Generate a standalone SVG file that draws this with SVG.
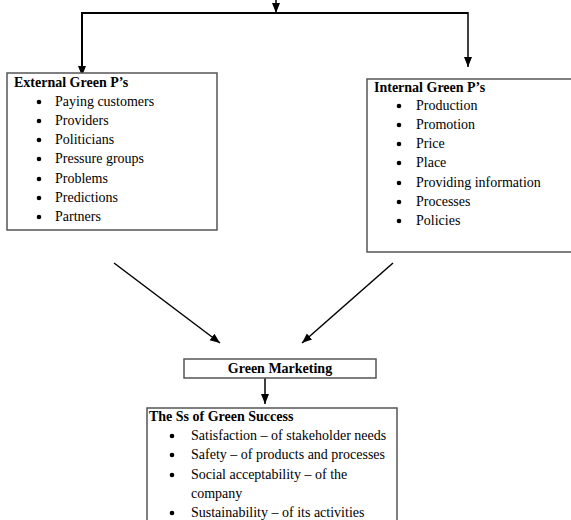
<svg xmlns="http://www.w3.org/2000/svg" width="571" height="520" viewBox="0 0 571 520">
<defs>
<style>
.box{fill:#fff;stroke:#555;stroke-width:1.5}
.t{font-family:"Liberation Serif","Times New Roman",serif;font-size:14px;fill:#000}
.b{font-weight:bold}
.c{fill:none;stroke:#000}
.dot{fill:#000}
</style>
<marker id="ah" markerUnits="userSpaceOnUse" markerWidth="10" markerHeight="10" viewBox="0 0 10 10" refX="10" refY="5" orient="auto">
<path d="M0,1 L10,5 L0,9 Z" fill="#000"/>
</marker>
</defs>
<rect width="571" height="520" fill="#fff"/>
<g id="connectors">
<line class="c" x1="276" y1="0" x2="276" y2="13" stroke-width="1.5" marker-end="url(#ah)"/>
<polyline class="c" points="82,13 468,13" stroke-width="2"/>
<line class="c" x1="82" y1="12" x2="82" y2="76" stroke-width="2" marker-end="url(#ah)"/>
<line class="c" x1="468" y1="12" x2="468" y2="67" stroke-width="1.5" marker-end="url(#ah)"/>
<line class="c" x1="114" y1="263" x2="220" y2="343" stroke-width="1.5" marker-end="url(#ah)"/>
<line class="c" x1="393" y1="263" x2="302" y2="343" stroke-width="1.5" marker-end="url(#ah)"/>
<line class="c" x1="265" y1="378" x2="265" y2="404" stroke-width="1.5" marker-end="url(#ah)"/>
</g>
<g id="external">
<rect class="box" x="7" y="73" width="210" height="157"/>
<text class="t b" x="14" y="87">External Green P’s</text>
<g class="dot">
<circle cx="39" cy="102" r="2.3"/><circle cx="39" cy="121" r="2.3"/><circle cx="39" cy="140" r="2.3"/><circle cx="39" cy="159" r="2.3"/><circle cx="39" cy="179" r="2.3"/><circle cx="39" cy="198" r="2.3"/><circle cx="39" cy="217" r="2.3"/>
</g>
<g class="t">
<text x="55" y="106">Paying customers</text>
<text x="55" y="125">Providers</text>
<text x="55" y="144">Politicians</text>
<text x="55" y="163">Pressure groups</text>
<text x="55" y="183">Problems</text>
<text x="55" y="202">Predictions</text>
<text x="55" y="221">Partners</text>
</g>
</g>
<g id="internal">
<rect class="box" x="367" y="79" width="214" height="173"/>
<text class="t b" x="374" y="92">Internal Green P’s</text>
<g class="dot">
<circle cx="399" cy="106" r="2.3"/><circle cx="399" cy="125" r="2.3"/><circle cx="399" cy="144" r="2.3"/><circle cx="399" cy="163" r="2.3"/><circle cx="399" cy="183" r="2.3"/><circle cx="399" cy="202" r="2.3"/><circle cx="399" cy="221" r="2.3"/>
</g>
<g class="t">
<text x="416" y="110">Production</text>
<text x="416" y="129">Promotion</text>
<text x="416" y="148">Price</text>
<text x="416" y="167">Place</text>
<text x="416" y="187">Providing information</text>
<text x="416" y="206">Processes</text>
<text x="416" y="225">Policies</text>
</g>
</g>
<g id="green-marketing">
<rect class="box" x="184" y="359" width="192" height="19"/>
<text class="t b" x="280" y="373" text-anchor="middle">Green Marketing</text>
</g>
<g id="green-success">
<rect class="box" x="147" y="408" width="250" height="125"/>
<text class="t b" x="149" y="421">The Ss of Green Success</text>
<g class="dot">
<circle cx="172" cy="436" r="2.3"/><circle cx="172" cy="455" r="2.3"/><circle cx="172" cy="475" r="2.3"/><circle cx="172" cy="513" r="2.3"/>
</g>
<g class="t">
<text x="191" y="440">Satisfaction – of stakeholder needs</text>
<text x="191" y="459">Safety – of products and processes</text>
<text x="191" y="479">Social acceptability – of the</text>
<text x="191" y="498">company</text>
<text x="191" y="517">Sustainability – of its activities</text>
</g>
</g>
</svg>
